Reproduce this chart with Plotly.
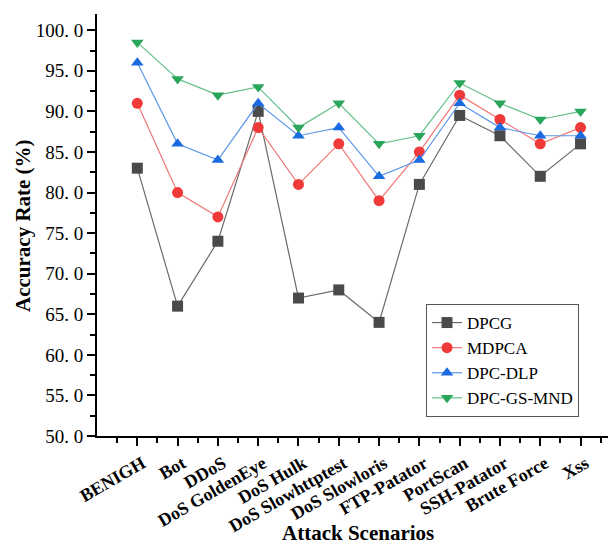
import plotly.graph_objects as go

categories = ["BENIGH", "Bot", "DDoS", "DoS GoldenEye", "DoS Hulk", "DoS Slowhttptest",
              "DoS Slowloris", "FTP-Patator", "PortScan", "SSH-Patator", "Brute Force", "Xss"]
dpcg = [83, 66, 74, 90, 67, 68, 64, 81, 89.5, 87, 82, 86]
mdpca = [91, 80, 77, 88, 81, 86, 79, 85, 92, 89, 86, 88]
dpc_dlp = [96, 86, 84, 91, 87, 88, 82, 84, 91, 88, 87, 87]
dpc_gs_mnd = [98.5, 94, 92, 93, 88, 91, 86, 87, 93.5, 91, 89, 90]
y_ticks = [50, 55, 60, 65, 70, 75, 80, 85, 90, 95, 100]
y_ticktext = ["%d. 0" % v for v in y_ticks]

x = list(range(len(categories)))
serif = "Liberation Serif, Times New Roman, serif"

series = [
    ("DPCG", dpcg, "#4a4a4a", "#6a6a6a", "square"),
    ("MDPCA", mdpca, "#f03a3a", "#f07a7a", "circle"),
    ("DPC-DLP", dpc_dlp, "#1a6be0", "#5a95e8", "triangle-up"),
    ("DPC-GS-MND", dpc_gs_mnd, "#2aa65a", "#66c08a", "triangle-down"),
]

fig = go.Figure()
for name, vals, mc, lc, sym in series:
    fig.add_trace(go.Scatter(
        x=x, y=vals, name=name, mode="lines+markers",
        line=dict(color=lc, width=1.2),
        marker=dict(symbol=sym, size=11, color=mc, line=dict(width=0)),
    ))

# page body has an 8px margin: lay out in page coordinates minus 8
PL, PR, PT, PB = 97, 616, 14, 436  # plot area in page pixels
fig.update_layout(
    width=608, height=536,
    margin=dict(l=PL - 8, r=0, t=PT - 8, b=536 - (PB - 8), autoexpand=False),
    paper_bgcolor="white", plot_bgcolor="white",
    font=dict(family=serif, color="black"),
    showlegend=True,
    legend=dict(
        x=(426 - PL) / (PR - PL), y=(PB - 304) / (PB - PT), xanchor="left", yanchor="top",
        bordercolor="#555555", borderwidth=1, bgcolor="white",
        font=dict(family=serif, size=17, color="black"),
        tracegroupgap=0,
    ),
    xaxis=dict(
        range=[-1, 11.88], tickmode="array", tickvals=x, ticktext=categories,
        tickangle=-30, tickfont=dict(family=serif, size=18, color="black", weight="bold"),
        ticklabelshift=5,
        showline=True, linecolor="black", linewidth=2, ticks="outside",
        ticklen=8, tickwidth=2, tickcolor="black", showgrid=False, zeroline=False,
        automargin=False,
        minor=dict(ticks="outside", ticklen=5, tickwidth=1.5, tickcolor="black",
                   tickmode="linear", tick0=-0.5, dtick=1, showgrid=False),
    ),
    yaxis=dict(
        range=[50, 102], tickmode="array", tickvals=y_ticks, ticktext=y_ticktext,
        tickfont=dict(family=serif, size=19, color="black"),
        showline=True, linecolor="black", linewidth=2, ticks="outside",
        ticklen=8, tickwidth=2, tickcolor="black", showgrid=False, zeroline=False,
        automargin=False,
        minor=dict(ticks="outside", ticklen=5, tickwidth=1.5, tickcolor="black",
                   tickmode="linear", tick0=52.5, dtick=5, showgrid=False),
    ),
    annotations=[
        dict(text="<b>Attack Scenarios</b>", xref="paper", yref="paper",
             x=(358 - PL) / (PR - PL), y=-(533 - PB) / (PB - PT),
             xanchor="center", yanchor="middle", showarrow=False,
             font=dict(family=serif, size=21, color="black")),
        dict(text="<b>Accuracy Rate (%)</b>", xref="paper", yref="paper",
             x=-(PL - 23) / (PR - PL), y=(PB - 226) / (PB - PT),
             xanchor="center", yanchor="middle", showarrow=False, textangle=-90,
             font=dict(family=serif, size=21, color="black")),
    ],
)

fig.write_html("out.html")
